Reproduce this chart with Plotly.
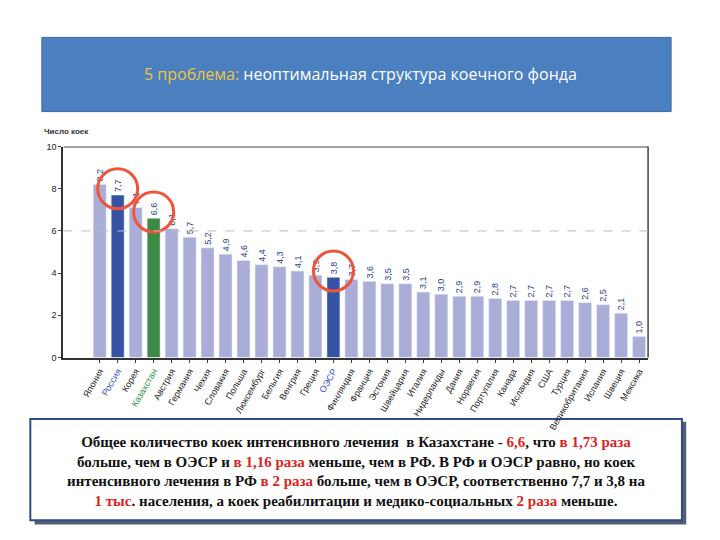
import plotly.graph_objects as go

countries = ['Япония', 'Россия', 'Корея', 'Казахстан', 'Австрия', 'Германия', 'Чехия', 'Словакия',
             'Польша', 'Люксембург', 'Бельгия', 'Венгрия', 'Греция', 'ОЭСР', 'Финляндия', 'Франция',
             'Эстония', 'Швейцария', 'Италия', 'Нидерланды', 'Дания', 'Норвегия', 'Португалия',
             'Канада', 'Исландия', 'США', 'Турция', 'Великобритания', 'Испания', 'Швеция', 'Мексика']
beds = [8.2, 7.7, 7.1, 6.6, 6.1, 5.7, 5.2, 4.9, 4.6, 4.4, 4.3, 4.1, 3.9, 3.8, 3.7, 3.6,
        3.5, 3.5, 3.1, 3.0, 2.9, 2.9, 2.8, 2.7, 2.7, 2.7, 2.7, 2.6, 2.5, 2.1, 1.0]
circled = ['Россия', 'Казахстан', 'ОЭСР']

def bar_color(c):
    if c == 'Казахстан':
        return '#3b8b47'
    if c in ('Россия', 'ОЭСР'):
        return '#3552a3'
    return '#aaadd8'

def tick_color(c):
    if c == 'Казахстан':
        return '#2e8b3e'
    if c in ('Россия', 'ОЭСР'):
        return '#3552c0'
    return '#222222'

labels = [str(v).replace('.', ',') for v in beds]

# page offset compensation
dx, dy = -0.011, 0.017

fig = go.Figure()
fig.add_trace(go.Bar(
    x=countries, y=beds, marker_color=[bar_color(c) for c in countries],
    text=labels, textposition='outside', textangle=-90,
    textfont=dict(size=10, color='#2a3f8a', family='Liberation Sans'),
    width=0.72, cliponaxis=False, showlegend=False
))
idx = [countries.index(c) for c in circled]
fig.add_trace(go.Scatter(
    x=circled, y=[beds[i] + 0.3 for i in idx], mode='markers',
    marker=dict(symbol='circle-open', size=40, line=dict(color='#cc3333', width=3)),
    showlegend=False, hoverinfo='skip', cliponaxis=False
))

fig.update_layout(
    width=720, height=540, margin=dict(l=0, r=0, t=0, b=0),
    paper_bgcolor='white', plot_bgcolor='white', bargap=0.2,
    xaxis=dict(domain=[0.088 + dx, 0.9 + dx], tickangle=-60,
               tickfont=dict(size=9, family='Liberation Sans', color='#222'),
               showline=True, linecolor='#333', linewidth=2, ticks='outside', ticklen=3,
               tickvals=countries,
               ticktext=[f'<span style="color:{tick_color(c)}">{c}</span>' for c in countries]),
    yaxis=dict(domain=[0.333 + dy, 0.731 + dy], range=[0, 10], dtick=2, showgrid=False,
               showline=True, linecolor='#333', linewidth=2, ticks='outside', ticklen=3,
               tickfont=dict(size=9, family='Liberation Sans', color='#222')),
    shapes=[
        dict(type='line', xref='paper', yref='paper', x0=0.9 + dx, x1=0.9 + dx,
             y0=0.333 + dy, y1=0.731 + dy, line=dict(color='#444', width=1.5)),
        dict(type='rect', xref='paper', yref='paper', x0=0.058 + dx, x1=0.932 + dx,
             y0=0.797 + dy, y1=0.937 + dy,
             fillcolor='#4a7fc0', line=dict(color='#3a6aaa', width=1), layer='below'),
        dict(type='rect', xref='paper', yref='paper', x0=0.048 + dx, x1=0.953 + dx,
             y0=0.018 + dy, y1=0.212 + dy,
             fillcolor='#555d70', line=dict(width=0), layer='below'),
        dict(type='rect', xref='paper', yref='paper', x0=0.042 + dx, x1=0.947 + dx,
             y0=0.026 + dy, y1=0.217 + dy,
             fillcolor='white', line=dict(color='#2f4d8a', width=2), layer='below'),
    ],
    annotations=[
        dict(x=0.5 + dx, y=0.867 + dy, xref='paper', yref='paper', showarrow=False, yanchor='middle',
             text='<span style="color:#f2c340">5 проблема:</span> неоптимальная структура коечного фонда',
             font=dict(size=16, color='white', family='Open Sans')),
        dict(x=0.058 + dx, y=0.76 + dy, xref='paper', yref='paper', showarrow=False, xanchor='left',
             yanchor='middle',
             text='<b>Число коек</b>', font=dict(size=8, color='#333', family='Liberation Sans')),
        dict(x=0.495 + dx, y=0.118 + dy, xref='paper', yref='paper', showarrow=False, align='center',
             yanchor='middle',
             font=dict(size=15, color='#111', family='Liberation Serif'),
             text='<b>Общее количество коек интенсивного лечения  в Казахстане - <span style="color:#d22">6,6</span>, что <span style="color:#d22">в 1,73 раза</span><br>'
                  'больше, чем в ОЭСР и <span style="color:#d22">в 1,16 раза</span> меньше, чем в РФ. В РФ и ОЭСР равно, но коек<br>'
                  'интенсивного лечения в РФ <span style="color:#d22">в 2 раза</span> больше, чем в ОЭСР, соответственно 7,7 и 3,8 на<br>'
                  '<span style="color:#d22">1 тыс</span>. населения, а коек реабилитации и медико-социальных <span style="color:#d22">2 раза</span> меньше.</b>'),
    ]
)
fig.add_hline(y=6, line=dict(color='#bbbbbb', width=1, dash='dash'))
fig.add_hline(y=10, line=dict(color='#444444', width=2))

fig.write_html('out.html')
